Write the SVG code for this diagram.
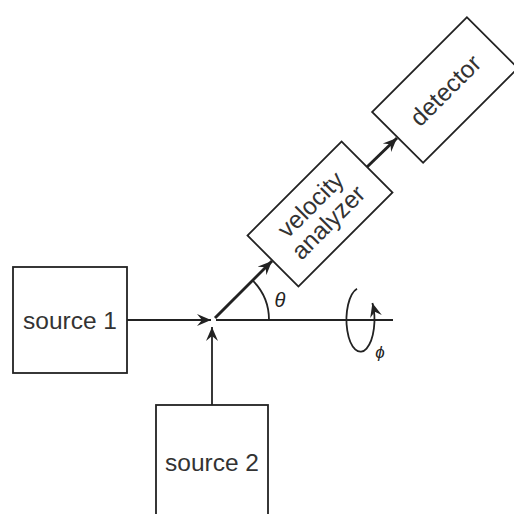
<svg xmlns="http://www.w3.org/2000/svg" width="514" height="514" viewBox="0 0 514 514">
<defs>
<style>
.box{fill:#fff;stroke:#222;stroke-width:1.8}
.lbl{font-family:"Liberation Sans",Arial,sans-serif;font-size:24.5px;fill:#333;text-anchor:middle}
.sym{font-family:"Liberation Sans",Arial,sans-serif;font-style:italic;fill:#222;text-anchor:middle}
.ln{fill:none;stroke:#222;stroke-width:1.8}
.thick{stroke-width:3}
</style>
<marker id="ah" markerUnits="userSpaceOnUse" markerWidth="16" markerHeight="14" refX="14" refY="6" orient="auto" viewBox="0 0 16 12">
<path d="M0,0 L14,6 L0,12 L5,6 z" fill="#222"/>
</marker>
</defs>
<rect width="514" height="514" fill="#fff"/>
<g id="connectors">
<line class="ln" x1="127" y1="320" x2="211" y2="320" marker-end="url(#ah)"/>
<line class="ln" x1="212" y1="405" x2="212" y2="327" marker-end="url(#ah)"/>
<line class="ln" x1="216" y1="320" x2="393" y2="320"/>
<line class="ln thick" x1="215" y1="318" x2="272" y2="261" marker-end="url(#ah)"/>
<line class="ln thick" x1="367" y1="167" x2="397" y2="138" marker-end="url(#ah)"/>
<path class="ln" d="M269,320 A56,56 0 0 0 252.6,280.4"/>
<path class="ln" d="M357,288.7 A14,32 0 1 0 372.4,303" marker-end="url(#ah)"/>
</g>
<g id="source1">
<rect class="box" x="13" y="267" width="114" height="106"/>
<text class="lbl" x="70" y="329">source 1</text>
</g>
<g id="source2">
<rect class="box" x="156" y="405" width="112" height="125"/>
<text class="lbl" x="212" y="471">source 2</text>
</g>
<g id="analyzer" transform="translate(320,214) rotate(-45)">
<rect class="box" x="-66.5" y="-36" width="133" height="72"/>
<text class="lbl" x="0" y="-5">velocity</text>
<text class="lbl" x="0" y="20">analyzer</text>
</g>
<g id="detector" transform="translate(445,90) rotate(-45)">
<rect class="box" x="-67" y="-36" width="134" height="72"/>
<text class="lbl" x="0" y="9">detector</text>
</g>
<g id="labels">
<text class="sym" x="280" y="307" font-size="20">θ</text>
<text class="sym" x="380" y="358" font-size="17">ϕ</text>
</g>
</svg>
